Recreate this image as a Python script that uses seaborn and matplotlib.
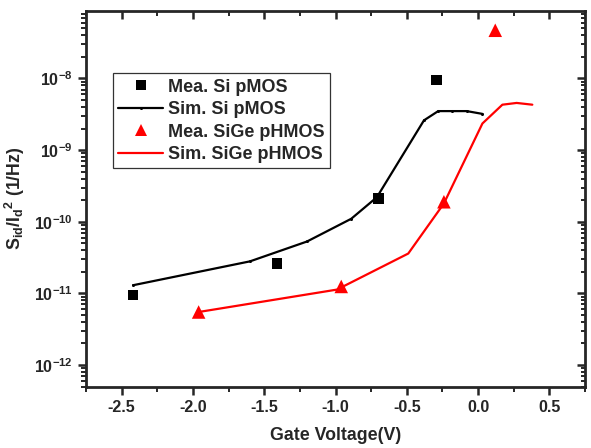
import numpy as np
import pandas as pd
import matplotlib
matplotlib.use("Agg")
import matplotlib.pyplot as plt
import seaborn as sns
from matplotlib.lines import Line2D

# ---- data ----
mea_si_x = [-2.42, -1.41, -0.70, -0.29]
mea_si_y = [9.5e-12, 2.6e-11, 2.1e-10, 9.5e-9]

sim_si_x = [-2.42, -1.60, -1.20, -0.89, -0.71, -0.38, -0.28, -0.18, -0.08, 0.03]
sim_si_y = [1.3e-11, 2.8e-11, 5.3e-11, 1.1e-10, 2.2e-10, 2.6e-9, 3.5e-9, 3.5e-9, 3.5e-9, 3.2e-9]

mea_sige_x = [-1.96, -0.96, -0.24, 0.12]
mea_sige_y = [5.5e-12, 1.25e-11, 1.9e-10, 4.7e-8]

sim_sige_x = [-1.96, -0.99, -0.49, -0.24, 0.03, 0.17, 0.27, 0.38]
sim_sige_y = [5.5e-12, 1.13e-11, 3.6e-11, 1.8e-10, 2.35e-9, 4.3e-9, 4.55e-9, 4.3e-9]

x_ticks = [-2.5, -2.0, -1.5, -1.0, -0.5, 0.0, 0.5]
y_ticks = [1e-12, 1e-11, 1e-10, 1e-9, 1e-8]

labels = ["Mea. Si pMOS", "Sim. Si pMOS", "Mea. SiGe pHMOS", "Sim. SiGe pHMOS"]

sns.set_style("ticks")
plt.rcParams["font.family"] = ["Liberation Sans", "DejaVu Sans"]
plt.rcParams["font.weight"] = "bold"
plt.rcParams["mathtext.fontset"] = "custom"
plt.rcParams["mathtext.rm"] = "Liberation Sans:bold"
plt.rcParams["mathtext.it"] = "Liberation Sans:bold"
plt.rcParams["mathtext.bf"] = "Liberation Sans:bold"
plt.rcParams["mathtext.default"] = "regular"

fig = plt.figure(figsize=(5.91, 4.48), dpi=100)
ax = fig.add_axes([0.1455, 0.137, 0.8445, 0.839])

df_ms = pd.DataFrame({"x": mea_si_x, "y": mea_si_y})
df_ss = pd.DataFrame({"x": sim_si_x, "y": sim_si_y})
df_mg = pd.DataFrame({"x": mea_sige_x, "y": mea_sige_y})
df_sg = pd.DataFrame({"x": sim_sige_x, "y": sim_sige_y})

sns.lineplot(data=df_ss, x="x", y="y", ax=ax, color="black", lw=1.6,
             marker="o", markersize=2.2, markeredgewidth=0, sort=False,
             estimator=None)
sns.lineplot(data=df_sg, x="x", y="y", ax=ax, color="#ff0000", lw=1.6,
             sort=False, estimator=None)
sns.scatterplot(data=df_ms, x="x", y="y", ax=ax, marker="s", s=60,
                color="black", edgecolor="none", zorder=3)
sns.scatterplot(data=df_mg, x="x", y="y", ax=ax, marker="^", s=95,
                color="#ff0000", edgecolor="none", zorder=3)

ax.set_yscale("log")
ax.set_xlim(-2.75, 0.75)
ax.set_ylim(5e-13, 8.8e-8)
ax.set_xticks(x_ticks)
ax.set_xticklabels([f"{v:.1f}" for v in x_ticks])
ax.set_xticks(np.arange(-2.75, 0.76, 0.25), minor=True)
ax.set_yticks(y_ticks)

for sp in ax.spines.values():
    sp.set_linewidth(2.0)
    sp.set_visible(True)

ax.tick_params(axis="both", which="major", labelsize=11.6, width=1.8, length=6)
ax.tick_params(axis="both", which="minor", width=1.4, length=3.6)
ax.tick_params(axis="x", which="both", direction="out", top=False)
ax.tick_params(axis="y", which="both", direction="out", right=False)

# inward ticks on top and right
axt = ax.twiny()
axt.set_xlim(ax.get_xlim())
axt.set_xticks(x_ticks)
axt.set_xticks(np.arange(-2.75, 0.76, 0.25), minor=True)
axt.tick_params(axis="x", which="major", direction="in", length=6, width=1.8,
                labeltop=False)
axt.tick_params(axis="x", which="minor", direction="in", length=3.5, width=1.4)
axr = ax.twinx()
axr.set_yscale("log")
axr.set_ylim(ax.get_ylim())
axr.set_yticks(y_ticks)
axr.tick_params(axis="y", which="major", direction="in", length=6, width=1.8,
                labelright=False)
axr.tick_params(axis="y", which="minor", direction="in", length=3, width=1.4,
                labelright=False)
for a in (axt, axr):
    for sp in a.spines.values():
        sp.set_visible(False)

ax.set_xlabel("Gate Voltage(V)", fontsize=12.8, fontweight="bold", labelpad=9)
ax.set_ylabel(r"S$_{id}$/I$_d$$^2$ (1/Hz)", fontsize=12.8, fontweight="bold",
              labelpad=5)

handles = [
    Line2D([], [], ls="none", marker="s", color="black", markersize=7.5,
           markeredgewidth=0),
    Line2D([], [], color="black", lw=1.6, marker="o", markersize=2.2,
           markeredgewidth=0),
    Line2D([], [], ls="none", marker="^", color="#ff0000", markersize=9,
           markeredgewidth=0),
    Line2D([], [], color="#ff0000", lw=1.6),
]
leg = ax.legend(handles, labels, loc="upper left",
                bbox_to_anchor=(0.0535, 0.8335), borderaxespad=0,
                frameon=True, fancybox=False,
                handlelength=2.5, handletextpad=0.28, labelspacing=0.3,
                borderpad=0.3,
                prop={"weight": "bold", "size": 13})
leg.get_frame().set_edgecolor("black")
leg.get_frame().set_linewidth(0.9)

fig.savefig("out.png", dpi=100)
